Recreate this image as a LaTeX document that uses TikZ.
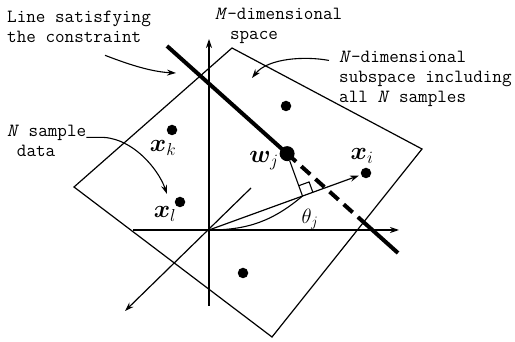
\documentclass[tikz,border=0pt]{standalone}
\usepackage{amsmath}
\usepackage{bm}
\usetikzlibrary{arrows.meta, calc, positioning}

\begin{document}
\begin{tikzpicture}[x=1pt, y=-1pt,
    frame/.style={line width=1.2pt},
    axis/.style={line width=1.2pt, -{Stealth[length=9pt, width=6pt]}},
    lead/.style={line width=1.1pt, -{Stealth[length=9pt, width=6pt]}},
    cline/.style={line width=4pt},
    smpl/.style={circle, fill=black, inner sep=0pt, minimum size=10.5pt},
    wdot/.style={circle, fill=black, inner sep=0pt, minimum size=15pt},
    note/.style={font=\ttfamily\fontsize{18.6}{20}\selectfont, align=left, inner sep=0pt, anchor=base west},
    vlbl/.style={font=\fontsize{23}{23}\selectfont, inner sep=0pt}]

    \useasboundingbox (0,0) rectangle (515,342);

    % the plane holding the samples
    \coordinate (pt) at (232,48);
    \coordinate (pr) at (422,149);
    \coordinate (pb) at (272,337);
    \coordinate (pl) at (74,187);
    \draw[frame] (pt) -- (pr) -- (pb) -- (pl) -- cycle;

    % axes
    \coordinate (o) at (209,230);
    \coordinate (ytop) at (209,39);
    \coordinate (ybot) at (209,306);
    \coordinate (xlft) at (133,230);
    \coordinate (xrgt) at (399,230);
    \coordinate (zup) at (251,188);
    \coordinate (zdn) at (125,311);
    \draw[axis] (ybot) -- (ytop);
    \draw[axis] (xlft) -- (xrgt);
    \draw[axis] (zup) -- (zdn);

    % sample points
    \node[smpl] (pm) at (286,106) {};
    \node[smpl] (xk) at (172,130) {};
    \node[smpl] (xl) at (180,202) {};
    \node[smpl] (pd) at (243,273) {};
    \node[smpl] (xi) at (366,173) {};

    % constraint line and weight vector
    \coordinate (ca) at (167,46);
    \coordinate (cb) at (398,253);
    \coordinate (cx) at (intersection of ca--cb and pr--pb);
    \node[wdot] (w) at ($(ca)!0.52!(cb)$) {};
    \draw[cline] (ca) -- (w.center);
    \draw[cline, dash pattern=on 12pt off 7pt] (w.center) -- (cx);
    \draw[cline] (cx) -- (cb);

    \draw[axis, shorten >=2pt] (o) -- (xi);
    \coordinate (ft) at ($(o)!(w)!(xi)$);
    \draw[line width=1.1pt] (w) -- (ft);
    \coordinate (ra) at ($(ft)!11pt!(xi)$);
    \coordinate (rb) at ($(ft)!11pt!(w)$);
    \draw[line width=1.1pt] (ra) -- ($(ra)+(rb)-(ft)$) -- (rb);
    \draw[line width=1.1pt] (o) to[bend right=20] (ft);

    % labels
    \node[vlbl] (lk) at (163,148) {$\bm{x}_k$};
    \node[vlbl] (ll) at (165,214) {$\bm{x}_l$};
    \node[vlbl] (lw) at (264,161) {$\bm{w}_j$};
    \node[vlbl] (li) at (362,156) {$\bm{x}_i$};
    \node[vlbl, font=\fontsize{20}{20}\selectfont] (lth) at (310,219) {$\theta_j$};

    % notes
    \node[note] (ls) at (7,43) {Line satisfying\\the constraint};
    \node[note] (ms) at (215,40) {\textit{M}-dimensional\\\hspace*{0.8em}space};
    \node[note] (nd) at (339,103) {\textit{N}-dimensional\\subspace including\\all \textit{N} samples};
    \node[note] (ns) at (7,157) {\textit{N} sample\\\hspace*{0.525em}data};

    \coordinate (lsend) at (176,73);
    \coordinate (ndend) at (252,78);
    \coordinate (nsend) at (167,194);
    \draw[lead] ([xshift=26pt, yshift=-12pt]ls.south) .. controls (135,67) and (155,72) .. (lsend);
    \draw[lead] ([xshift=-10pt, yshift=-9pt]nd.north west) .. controls (305,56) and (268,58) .. (ndend);
    \draw[lead] ([yshift=-12pt]ns.north east) -- ++(11,0) .. controls (130,135) and (158,168) .. (nsend);
\end{tikzpicture}
\end{document}
